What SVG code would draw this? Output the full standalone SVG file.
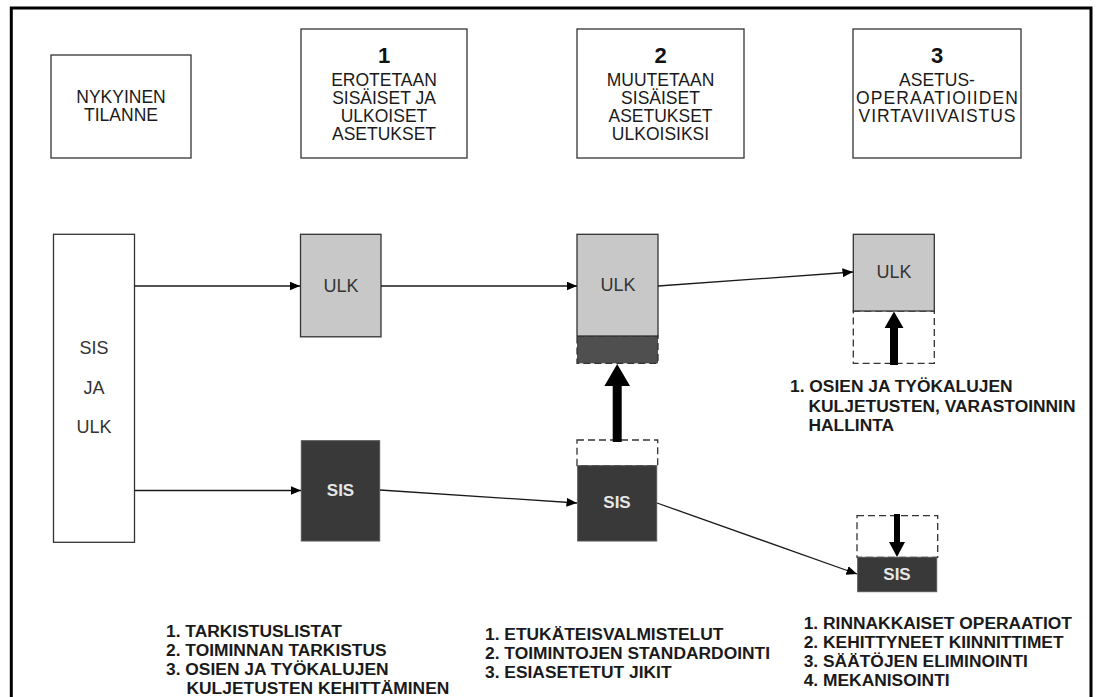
<svg xmlns="http://www.w3.org/2000/svg" width="1096" height="697" viewBox="0 0 1096 697">
<defs>
<style>
.hd{font-family:"Liberation Sans",Arial,sans-serif;font-size:17.5px;fill:#1a1a1a;text-anchor:middle}
.num{font-family:"Liberation Sans",Arial,sans-serif;font-size:22px;font-weight:bold;fill:#111;text-anchor:middle}
.box{fill:#fff;stroke:#333;stroke-width:1.3}
.ulk{fill:#c8c8c8;stroke:#333;stroke-width:1.3}
.sis{fill:#393939;stroke:#555;stroke-width:1}
.dash{fill:none;stroke:#333;stroke-width:1.3;stroke-dasharray:7 4}
.lbl{font-family:"Liberation Sans",Arial,sans-serif;font-size:18px;fill:#333;text-anchor:middle}
.lblw{font-family:"Liberation Sans",Arial,sans-serif;font-size:17px;font-weight:bold;fill:#e6e6e6;text-anchor:middle}
.list{font-family:"Liberation Sans",Arial,sans-serif;font-size:17.4px;font-weight:bold;fill:#1a1a1a}
.con{fill:none;stroke:#1a1a1a;stroke-width:1.3}
.thick{fill:#000}
</style>
<marker id="ah" markerUnits="userSpaceOnUse" markerWidth="11" markerHeight="10" refX="10.5" refY="4.5" orient="auto">
<path d="M0,0 L10.5,4.5 L0,9 z" fill="#000"/>
</marker>
</defs>
<rect x="11.3" y="8" width="1079.7" height="720" fill="#fff" stroke="#000" stroke-width="3"/>

<g id="header-nykyinen">
<rect class="box" x="51" y="55" width="140" height="103"/>
<text class="hd" x="121" y="103">NYKYINEN</text>
<text class="hd" x="121" y="121">TILANNE</text>
</g>
<g id="header-1">
<rect class="box" x="301" y="29" width="166" height="129"/>
<text class="num" x="384" y="63">1</text>
<text class="hd" x="384" y="85.5">EROTETAAN</text>
<text class="hd" x="384" y="103.5">SISÄISET JA</text>
<text class="hd" x="384" y="121.5">ULKOISET</text>
<text class="hd" x="384" y="139.5">ASETUKSET</text>
</g>
<g id="header-2">
<rect class="box" x="577" y="29" width="167" height="129"/>
<text class="num" x="660.5" y="63">2</text>
<text class="hd" x="660.5" y="85.5">MUUTETAAN</text>
<text class="hd" x="660.5" y="103.5">SISÄISET</text>
<text class="hd" x="660.5" y="121.5">ASETUKSET</text>
<text class="hd" x="660.5" y="139.5">ULKOISIKSI</text>
</g>
<g id="header-3">
<rect class="box" x="853" y="29" width="168" height="129"/>
<text class="num" x="937" y="63">3</text>
<text class="hd" x="937" y="85.5">ASETUS-</text>
<text class="hd" x="937" y="103.5" textLength="162" lengthAdjust="spacing">OPERAATIOIIDEN</text>
<text class="hd" x="937" y="121.5" textLength="157" lengthAdjust="spacing">VIRTAVIIVAISTUS</text>
</g>

<g id="sis-ja-ulk">
<rect class="box" x="53.5" y="234.3" width="81" height="308"/>
<text class="lbl" x="94" y="354">SIS</text>
<text class="lbl" x="94" y="394">JA</text>
<text class="lbl" x="94" y="433">ULK</text>
</g>

<g id="ulk-1">
<rect class="ulk" x="300.5" y="234.3" width="80.5" height="102.5"/>
<text class="lbl" x="341" y="292">ULK</text>
</g>
<g id="sis-1">
<rect class="sis" x="301.3" y="440.7" width="78.4" height="100.3"/>
<text class="lblw" x="340.5" y="496">SIS</text>
</g>

<g id="ulk-2">
<rect x="577" y="336" width="81" height="27.3" fill="#4f4f4f" stroke="#333" stroke-width="1.3" stroke-dasharray="7 4"/>
<rect class="ulk" x="577" y="234.3" width="81" height="101.7"/>
<text class="lbl" x="618" y="291">ULK</text>
</g>
<g id="sis-2">
<rect class="dash" x="577" y="440" width="80.7" height="25.7"/>
<rect class="sis" x="577.7" y="465.7" width="79" height="75.3"/>
<text class="lblw" x="617" y="508">SIS</text>
<polygon class="thick" points="612.7,442 621.7,442 621.7,386 630,386 617.2,364 604.4,386 612.7,386"/>
</g>

<g id="ulk-3">
<rect class="dash" x="853.3" y="311" width="81" height="52.3"/>
<rect class="ulk" x="853.3" y="234.3" width="81" height="76.7"/>
<text class="lbl" x="894" y="278">ULK</text>
<polygon class="thick" points="890,365 898,365 898,328 903.5,328 894,311.5 884.5,328 890,328"/>
<text class="list" x="790" y="392">1. OSIEN JA TYÖKALUJEN</text>
<text class="list" x="808.5" y="412">KULJETUSTEN, VARASTOINNIN</text>
<text class="list" x="808.5" y="431">HALLINTA</text>
</g>

<g id="sis-3">
<rect class="dash" x="857" y="515.7" width="80.7" height="41.6"/>
<rect class="sis" x="857.7" y="557.3" width="79" height="34.4"/>
<text class="lblw" x="897" y="580">SIS</text>
<polygon class="thick" points="894,514 900,514 900,542 905,542 897,557 889,542 894,542"/>
</g>

<g id="connectors">
<line class="con" x1="134.5" y1="286" x2="300" y2="286" marker-end="url(#ah)"/>
<line class="con" x1="381" y1="286" x2="577" y2="286" marker-end="url(#ah)"/>
<line class="con" x1="658" y1="286" x2="853" y2="272" marker-end="url(#ah)"/>
<line class="con" x1="134.5" y1="490.5" x2="301" y2="490.5" marker-end="url(#ah)"/>
<line class="con" x1="380" y1="490" x2="577" y2="503" marker-end="url(#ah)"/>
<line class="con" x1="657" y1="503" x2="857" y2="574" marker-end="url(#ah)"/>
</g>

<g id="list-1">
<text class="list" x="166" y="637">1. TARKISTUSLISTAT</text>
<text class="list" x="166" y="656">2. TOIMINNAN TARKISTUS</text>
<text class="list" x="166" y="675">3. OSIEN JA TYÖKALUJEN</text>
<text class="list" x="186.5" y="694">KULJETUSTEN KEHITTÄMINEN</text>
</g>
<g id="list-2">
<text class="list" x="485" y="640">1. ETUKÄTEISVALMISTELUT</text>
<text class="list" x="485" y="659">2. TOIMINTOJEN STANDARDOINTI</text>
<text class="list" x="485" y="678">3. ESIASETETUT JIKIT</text>
</g>
<g id="list-3">
<text class="list" x="803.7" y="629">1. RINNAKKAISET OPERAATIOT</text>
<text class="list" x="803.7" y="648">2. KEHITTYNEET KIINNITTIMET</text>
<text class="list" x="803.7" y="667">3. SÄÄTÖJEN ELIMINOINTI</text>
<text class="list" x="803.7" y="686">4. MEKANISOINTI</text>
</g>
</svg>
